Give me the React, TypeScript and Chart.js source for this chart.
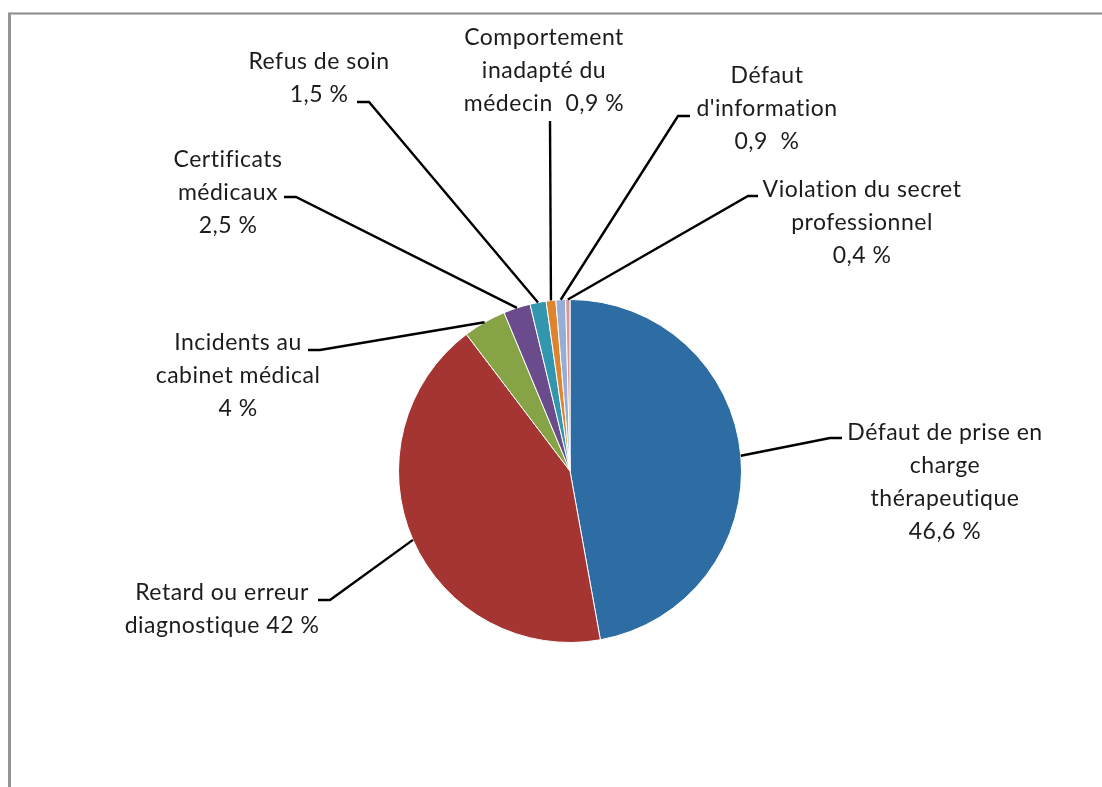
import React, { useEffect, useRef } from "react";
import { Chart, registerables } from "chart.js";

Chart.register(...registerables);

const categories = [
  "Défaut de prise en charge thérapeutique",
  "Retard ou erreur diagnostique",
  "Incidents au cabinet médical",
  "Certificats médicaux",
  "Refus de soin",
  "Comportement inadapté du médecin",
  "Défaut d'information",
  "Violation du secret professionnel",
];

const values = [46.6, 42, 4, 2.5, 1.5, 0.9, 0.9, 0.4];

const sliceColors = [
  "#2E6CA4",
  "#A53532",
  "#86A446",
  "#6A4C8C",
  "#3396AF",
  "#E0832E",
  "#96AED6",
  "#D89896",
];

const labelLines = [
  ["Défaut de prise en", "charge", "thérapeutique", "46,6 %"],
  ["Retard ou erreur", "diagnostique 42 %"],
  ["Incidents au", "cabinet médical", "4 %"],
  ["Certificats", "médicaux", "2,5 %"],
  ["Refus de soin", "1,5 %"],
  ["Comportement", "inadapté du", "médecin  0,9 %"],
  ["Défaut", "d'information", "0,9  %"],
  ["Violation du secret", "professionnel", "0,4 %"],
];

// layout of callouts: elbow point, end of horizontal stub, text centre x, first line y
const calloutLayout = [
  { ex: 830, ey: 438, hx: 842, cx: 945, ty: 433 },
  { ex: 330, ey: 600, hx: 318, cx: 222, ty: 593 },
  { ex: 320, ey: 350, hx: 308, cx: 238, ty: 343 },
  { ex: 296, ey: 197, hx: 284, cx: 228, ty: 160 },
  { ex: 369, ey: 102, hx: 357, cx: 319, ty: 62 },
  { ex: 550, ey: 121, hx: 550, cx: 544, ty: 38 },
  { ex: 678, ey: 116, hx: 690, cx: 767, ty: 76 },
  { ex: 748, ey: 196, hx: 758, cx: 862, ty: 190 },
];

const LINE_GAP = 32.7;
const FONT = "23px Lato, 'Open Sans', sans-serif";

const calloutPlugin = {
  id: "callouts",
  afterDatasetsDraw(chart: any) {
    const ctx = chart.ctx;
    const meta = chart.getDatasetMeta(0);
    ctx.save();
    meta.data.forEach((arc: any, i: number) => {
      const lay = calloutLayout[i];
      if (!lay) return;
      const p = arc.getProps(["x", "y", "startAngle", "endAngle", "outerRadius"], true);
      const mid = (p.startAngle + p.endAngle) / 2;
      const sx = p.x + Math.cos(mid) * p.outerRadius;
      const sy = p.y + Math.sin(mid) * p.outerRadius;
      ctx.beginPath();
      ctx.strokeStyle = "#000";
      ctx.lineWidth = 2.4;
      ctx.lineJoin = "miter";
      ctx.moveTo(sx, sy);
      ctx.lineTo(lay.ex, lay.ey);
      ctx.lineTo(lay.hx, lay.ey);
      ctx.stroke();
      ctx.fillStyle = "#1c1c1c";
      ctx.font = FONT;
      try {
        (ctx as any).letterSpacing = "0.5px";
      } catch (e) {}
      ctx.textAlign = "center";
      ctx.textBaseline = "middle";
      labelLines[i].forEach((t, j) => {
        ctx.fillText(t, lay.cx, lay.ty + j * LINE_GAP);
      });
    });
    ctx.restore();
  },
};

const framePlugin = {
  id: "frame",
  beforeDraw(chart: any) {
    const ctx = chart.ctx;
    ctx.save();
    ctx.fillStyle = "#ffffff";
    ctx.fillRect(0, 0, chart.width, chart.height);
    ctx.strokeStyle = "#8c8c8c";
    ctx.lineWidth = 2;
    ctx.beginPath();
    ctx.moveTo(9.5, 13.5);
    ctx.lineTo(chart.width, 13.5);
    ctx.stroke();
    ctx.lineWidth = 3;
    ctx.strokeStyle = "#959595";
    ctx.beginPath();
    ctx.moveTo(9.5, chart.height);
    ctx.lineTo(9.5, 12.5);
    ctx.stroke();
    ctx.restore();
  },
};

export default function App() {
  const ref = useRef<HTMLCanvasElement>(null);
  useEffect(() => {
    if (!ref.current) return;
    const chart = new Chart(ref.current, {
      type: "pie",
      data: {
        labels: categories,
        datasets: [
          {
            data: values,
            backgroundColor: sliceColors,
            borderColor: "#ffffff",
            borderWidth: 1,
          },
        ],
      },
      options: {
        responsive: false,
        animation: false,
        layout: { padding: { left: 398, right: 360, top: 299, bottom: 144 } },
        plugins: {
          legend: { display: false },
          tooltip: { enabled: false },
        },
      },
      plugins: [framePlugin, calloutPlugin],
    });
    return () => chart.destroy();
  }, []);
  return (
    <div style={{ position: "fixed", left: 0, top: 0, width: 1102, height: 787, background: "#fff" }}>
      <canvas ref={ref} width={1102} height={787} style={{ display: "block" }} />
    </div>
  );
}
